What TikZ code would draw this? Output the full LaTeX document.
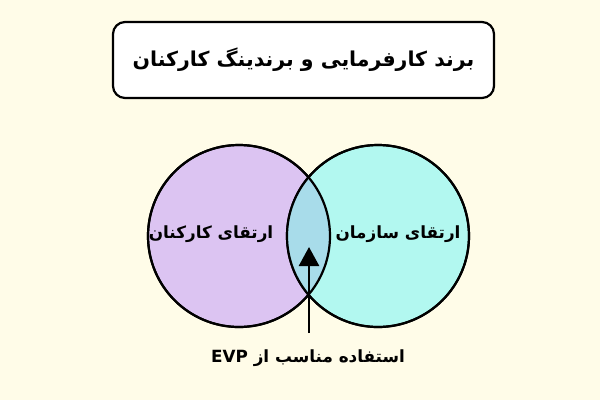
\documentclass[tikz,border=0pt]{standalone}
\usepackage{fontspec}
\usetikzlibrary{arrows.meta}
\newfontfamily\fa[Script=Arabic]{DejaVu Sans}
\TeXXeTstate=1
\definecolor{bg}{RGB}{255,252,232}
\definecolor{lpurple}{RGB}{220,196,242}
\definecolor{lcyan}{RGB}{178,248,240}
\definecolor{inter}{RGB}{168,220,234}
\begin{document}
\begin{tikzpicture}[x=1pt,y=-1pt,
  titlebox/.style={draw=black, line width=2.2pt, fill=white, rounded corners=12pt,
    minimum width=381pt, minimum height=76pt, inner sep=0pt,
    font=\fa\bfseries\fontsize{20.5}{24}\selectfont},
  venn/.style={circle, draw=black, line width=2.2pt, minimum size=182pt, inner sep=0pt},
  lbl/.style={font=\fa\bfseries\fontsize{16.8}{20}\selectfont, inner sep=0pt},
  pointer/.style={line width=2.6pt, -{Triangle[width=20pt,length=19pt]}}
]
\fill[bg] (0,0) rectangle (600,400);
\useasboundingbox (0,0) rectangle (600,400);

\node[titlebox] (title) at (303.5,60) {\beginR برند کارفرمایی و برندینگ کارکنان\endR};

\node[venn, fill=lpurple] (left) at (239,236) {};
\node[venn, fill=lcyan] (right) at (378,236) {};
\begin{scope}
  \clip (left.center) circle [radius=91pt];
  \fill[inter] (right.center) circle [radius=91pt];
\end{scope}
\draw[line width=2.2pt] (left.center) circle [radius=91pt];
\draw[line width=2.2pt] (right.center) circle [radius=91pt];

\node[lbl] (lt) at (211,234) {\beginR ارتقای کارکنان\endR};
\node[lbl] (rt) at (398,234) {\beginR ارتقای سازمان\endR};

\coordinate (tail) at (309,333);
\coordinate (tip) at (309,247);
\draw[pointer] (tail) -- (tip);

\node[lbl] (evp) at (308,358) {\beginR استفاده مناسب از \beginL EVP\endL\endR};
\end{tikzpicture}
\end{document}
